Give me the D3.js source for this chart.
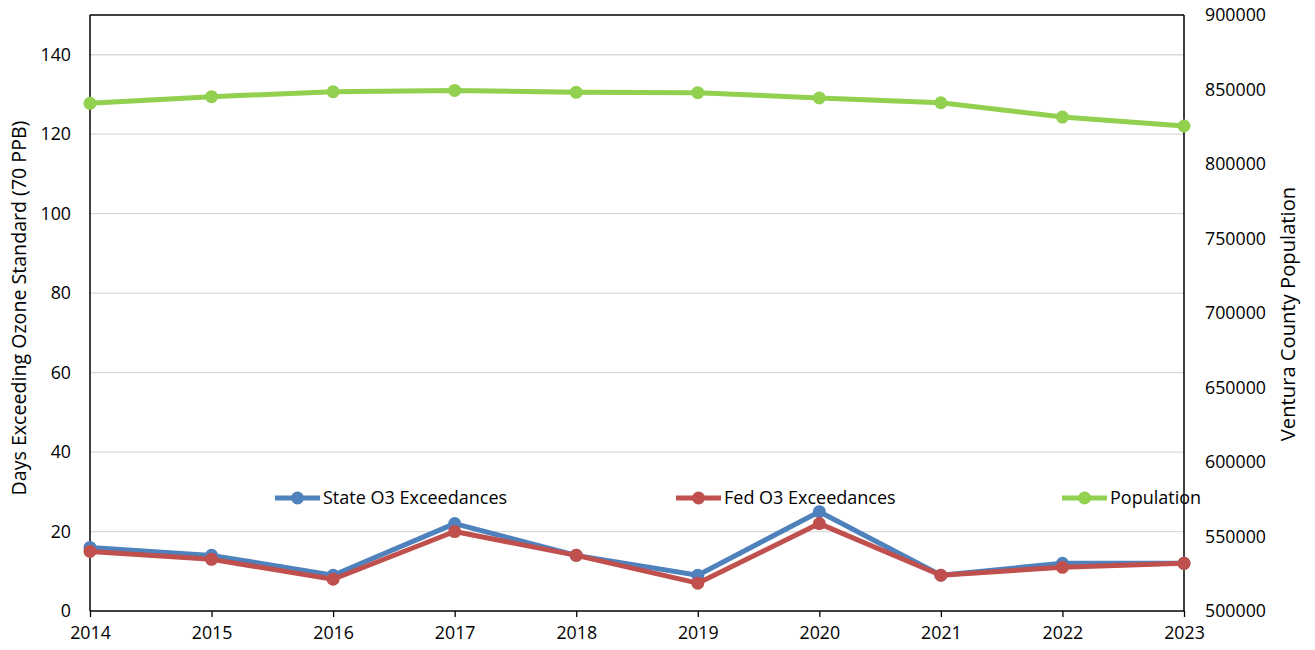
<!DOCTYPE html>
<html><head><meta charset="utf-8">
<script src="https://cdn.jsdelivr.net/npm/d3@7"></script>
<style>body{margin:0;background:#fff}svg{display:block}text{font-family:"Open Sans",sans-serif;fill:#000}</style>
</head><body><svg id="c" width="1315" height="650"></svg>
<script>
const years = [2014,2015,2016,2017,2018,2019,2020,2021,2022,2023];
const stateO3 = [16,14,9,22,14,9,25,9,12,12];
const fedO3 = [15,13,8,20,14,7,22,9,11,12];
const population = [840700,845200,848500,849400,848100,847900,844300,841100,831500,825500];
const leftTicks = [0,20,40,60,80,100,120,140];
const rightTicks = [500000,550000,600000,650000,700000,750000,800000,850000,900000];
const seriesNames = ["State O3 Exceedances","Fed O3 Exceedances","Population"];
const colors = ["#4F81BD","#C0504D","#92D050"];

const svg = d3.select("#c");
const L=90,R=1184,T=15,B=611;
const x = d3.scalePoint().domain(years).range([L,R]);
const yL = d3.scaleLinear().domain([0,150]).range([B,T]);
const yR = d3.scaleLinear().domain([500000,900000]).range([B,T]);

// gridlines
svg.append("g").selectAll("line").data(leftTicks.slice(1)).join("line")
  .attr("x1",L).attr("x2",R).attr("y1",d=>yL(d)).attr("y2",d=>yL(d))
  .attr("stroke","#d9d9d9").attr("stroke-width",1.3);
// frame top
svg.append("line").attr("x1",L).attr("x2",R).attr("y1",T).attr("y2",T).attr("stroke","#000").attr("stroke-width",1.3);

const fs = "17.8px";
const gx = svg.append("g").attr("transform",`translate(0,${B})`).call(d3.axisBottom(x).tickSize(6).tickPadding(9));
const gl = svg.append("g").attr("transform",`translate(${L},0)`).call(d3.axisLeft(yL).tickValues(leftTicks).tickSize(0).tickPadding(19));
const gr = svg.append("g").attr("transform",`translate(${R},0)`).call(d3.axisRight(yR).tickValues(rightTicks).tickFormat(d3.format("d")).tickSize(0).tickPadding(21));
[gx,gl,gr].forEach(g=>{
  g.selectAll("path.domain").attr("stroke","#000").attr("stroke-width",1.5);
  g.selectAll(".tick line").attr("stroke","#000").attr("stroke-width",1.3);
  g.selectAll("text").attr("font-size",fs).attr("font-family","'Open Sans',sans-serif").attr("fill","#000");
});
gx.select("path.domain").attr("d",`M${L},0H${R}`);
gl.select("path.domain").attr("d",`M0,${B}V${T}`);
gr.select("path.domain").attr("d",`M0,${B}V${T}`);

svg.append("text").attr("transform",`translate(26,308) rotate(-90)`).attr("text-anchor","middle")
  .attr("font-size","19.6px").text("Days Exceeding Ozone Standard (70 PPB)");
svg.append("text").attr("transform",`translate(1295,314) rotate(-90)`).attr("text-anchor","middle")
  .attr("font-size","20.2px").text("Ventura County Population");

function drawSeries(vals, scale, color){
  const g = svg.append("g");
  g.append("path").datum(vals).attr("fill","none").attr("stroke",color).attr("stroke-width",5).attr("stroke-linejoin","round")
    .attr("d",d3.line().x((d,i)=>x(years[i])).y(d=>scale(d)));
  g.selectAll("circle").data(vals).join("circle").attr("cx",(d,i)=>x(years[i])).attr("cy",d=>scale(d)).attr("r",6.5).attr("fill",color);
}
drawSeries(population,yR,colors[2]);
drawSeries(stateO3,yL,colors[0]);
drawSeries(fedO3,yL,colors[1]);

// legend
const legX = [275,676,1062];
const legY = 498;
seriesNames.forEach((n,i)=>{
  const g = svg.append("g").attr("transform",`translate(${legX[i]},${legY})`);
  g.append("line").attr("x1",0).attr("x2",45).attr("stroke",colors[i]).attr("stroke-width",5);
  g.append("circle").attr("cx",22.5).attr("r",6.5).attr("fill",colors[i]);
  g.append("text").attr("x",48).attr("dy","0.35em").attr("font-size","18px").text(n);
});
</script></body></html>
